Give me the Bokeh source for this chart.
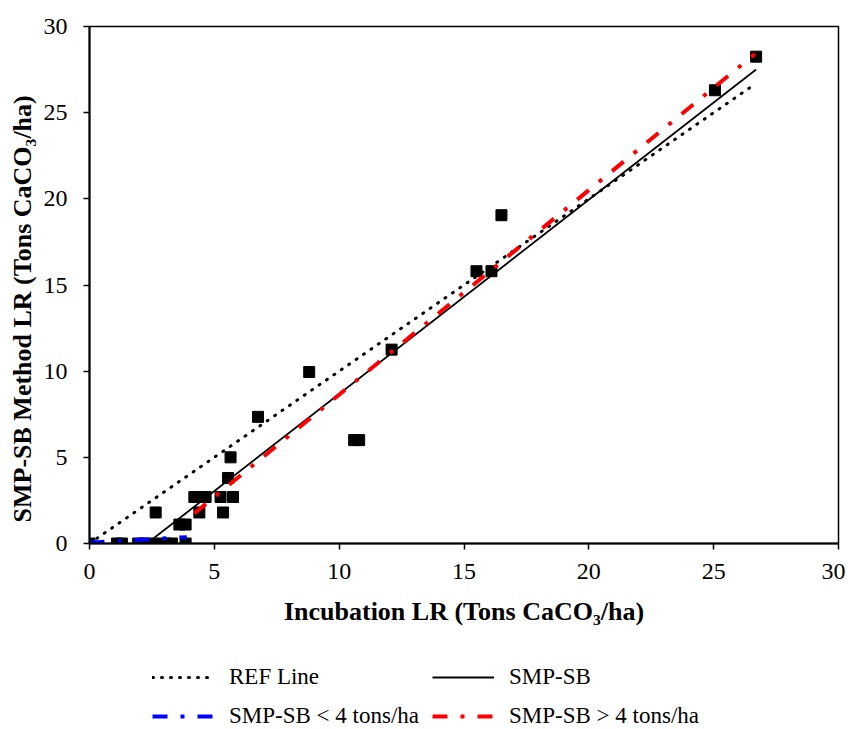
from bokeh.plotting import figure
from bokeh.layouts import column
from bokeh.models import Legend, LegendItem, Title, Range1d, FixedTicker
from bokeh.embed import file_html
from bokeh.resources import INLINE

# ---- data ----
incubation_lr = [0.0, 1.1, 1.3, 1.95, 2.15, 2.6, 3.05, 3.3, 3.85,
                 2.65, 3.6, 3.85, 4.2, 4.65, 5.25, 5.75, 4.4, 5.35,
                 5.55, 5.65, 6.75, 8.8, 10.6, 10.8, 12.1, 15.5, 16.1,
                 16.5, 25.05, 26.7]
smp_sb_lr = [0.0, 0.0, 0.0, 0.0, 0.0, 0.0, 0.0, 0.0, 0.0,
             1.8, 1.1, 1.1, 2.7, 2.7, 2.7, 2.7, 1.8, 1.8,
             3.8, 5.0, 7.35, 9.95, 6.0, 6.0, 11.25, 15.8, 15.8,
             19.05, 26.3, 28.25]

ref_x = [0.0, 26.7]
ref_y = [0.0, 26.7]
fit_all_x = [2.3, 26.7]
fit_all_y = [0.0, 27.5]
fit_low_x = [0.0, 3.9]
fit_low_y = [0.05, 0.37]
fit_high_x = [4.2, 26.65]
fit_high_y = [1.75, 28.4]

x_ticks = [0, 5, 10, 15, 20, 25, 30]
y_ticks = [0, 5, 10, 15, 20, 25, 30]

legend_labels = ["REF Line", "SMP-SB < 4 tons/ha", "SMP-SB", "SMP-SB > 4 tons/ha"]

FONT = "Liberation Serif"

STYLES = {
    "ref": dict(line_color="black", line_width=3, line_dash="1 8", line_cap="round"),
    "all": dict(line_color="black", line_width=1.8),
    "low": dict(line_color="#0000ff", line_width=4, line_dash="15 13 4 13"),
    "high": dict(line_color="#ff0000", line_width=4, line_dash="15 13 4 13"),
}

p = figure(width=845, height=650, x_range=Range1d(0, 30), y_range=Range1d(0, 30),
           output_backend="svg", toolbar_location=None,
           min_border_left=89, min_border_right=7, min_border_top=26,
           min_border_bottom=107)

p.xgrid.visible = False
p.ygrid.visible = False
p.outline_line_color = "black"
p.outline_line_width = 1.5
p.background_fill_color = "white"
p.border_fill_color = "white"

for ax in (p.xaxis[0], p.yaxis[0]):
    ax.axis_line_width = 2
    ax.axis_line_color = "black"
    ax.major_tick_out = 6
    ax.major_tick_in = 0
    ax.major_tick_line_width = 1.5
    ax.minor_tick_out = 0
    ax.minor_tick_in = 0
    ax.major_label_text_font = FONT
    ax.major_label_text_font_size = "24px"
    ax.major_label_text_color = "black"

p.xaxis[0].ticker = FixedTicker(ticks=x_ticks)
p.yaxis[0].ticker = FixedTicker(ticks=y_ticks)
p.xaxis[0].major_label_standoff = 14
p.yaxis[0].major_label_standoff = 16

p.xaxis[0].axis_label = "Incubation LR (Tons CaCO\u2083/ha)"
p.xaxis[0].axis_label_text_font = FONT
p.xaxis[0].axis_label_text_font_size = "26px"
p.xaxis[0].axis_label_text_font_style = "bold"
p.xaxis[0].axis_label_text_color = "black"
p.xaxis[0].axis_label_standoff = 15

ytitle = Title(text="SMP-SB Method LR (Tons CaCO\u2083/ha)", align="left", offset=21,
               text_font=FONT, text_font_size="26px", text_font_style="bold",
               text_color="black", standoff=8)
p.add_layout(ytitle, "left")

# points
p.scatter(incubation_lr, smp_sb_lr, marker="square", size=11, color="black")

# lines
p.line(ref_x, ref_y, **STYLES["ref"])
p.line(fit_all_x, fit_all_y, **STYLES["all"])
p.line(fit_low_x, fit_low_y, **STYLES["low"])
p.line(fit_high_x, fit_high_y, **STYLES["high"])

# legend strip below the chart (its own ranges keep the lines off-view,
# only the legend samples show)
q = figure(width=845, height=79, x_range=Range1d(100, 101), y_range=Range1d(100, 101),
           output_backend="svg", toolbar_location=None,
           x_axis_type=None, y_axis_type=None,
           min_border_left=0, min_border_right=0, min_border_top=0,
           min_border_bottom=0)
q.outline_line_color = None
q.background_fill_color = "white"
q.border_fill_color = "white"
q.grid.visible = False

lr_ref = q.line(ref_x, ref_y, **STYLES["ref"])
lr_low = q.line(fit_low_x, fit_low_y, **STYLES["low"])
lr_all = q.line(fit_all_x, fit_all_y, **STYLES["all"])
lr_high = q.line(fit_high_x, fit_high_y, **STYLES["high"])

legend = Legend(items=[LegendItem(label=legend_labels[0], renderers=[lr_ref]),
                       LegendItem(label=legend_labels[1], renderers=[lr_low]),
                       LegendItem(label=legend_labels[2], renderers=[lr_all]),
                       LegendItem(label=legend_labels[3], renderers=[lr_high])],
                location=(63, 0), nrows=2, orientation="vertical",
                padding=0, margin=0, spacing=13,
                glyph_width=62, glyph_height=22, label_height=22,
                label_standoff=15,
                label_text_font=FONT, label_text_font_size="23px",
                label_text_color="black",
                border_line_alpha=0, background_fill_alpha=0)
q.add_layout(legend, "center")

layout = column(p, q, spacing=0)

open("out.html", "w").write(file_html(layout, INLINE))
